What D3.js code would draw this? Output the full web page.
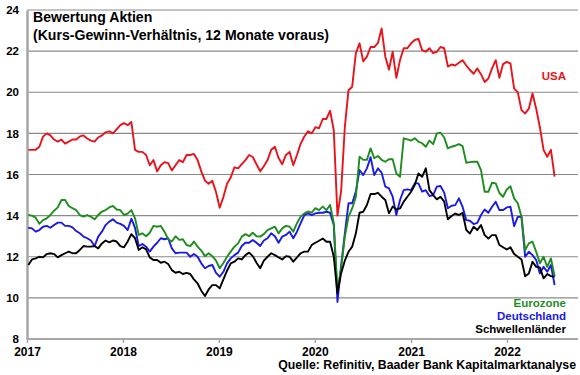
<!DOCTYPE html>
<html><head><meta charset="utf-8">
<script src="https://cdn.jsdelivr.net/npm/d3@7"></script>
<style>body{margin:0;background:#fff}svg{display:block}text{font-family:"Liberation Sans",Arial,sans-serif;font-weight:bold}</style>
</head><body><svg id="c" width="580" height="375"></svg>
<script>
const startDate = "2017-01-06";
const stepDays = 14;
const yTicks = [8,10,12,14,16,18,20,22,24];
const xTickYears = [2017,2018,2019,2020,2021,2022];
const titleLines = ["Bewertung Aktien","(Kurs-Gewinn-Verhältnis, 12 Monate voraus)"];
const sourceText = "Quelle: Refinitiv, Baader Bank Kapitalmarktanalyse";
const seriesNames = ["USA","Deutschland","Eurozone","Schwellenländer"];
const seriesColors = ["#e8141c","#1a1ae6","#1e8c1e","#000000"];

const usa = [17.2,17.2,17.2,17.35,17.84,18.0,17.9,17.7,17.6,17.7,17.5,17.6,17.7,17.7,17.85,17.9,17.75,17.65,17.6,17.8,17.9,18.05,18.1,18.0,18.2,18.4,
 18.5,18.4,18.55,17.2,17.1,17.1,16.95,16.45,16.7,16.15,16.45,16.6,16.55,16.2,16.45,16.7,16.6,16.95,16.95,17.0,16.7,16.15,15.7,15.55,15.7,15.15,14.38,
 14.9,15.55,15.85,16.35,16.3,16.5,16.7,16.95,16.85,16.5,16.15,16.4,16.7,17.2,17.35,16.8,16.5,16.95,17.1,16.45,16.95,17.5,17.85,18.1,18.0,
 18.3,18.25,18.7,18.7,19.1,18.15,14.0,15.2,18.3,20.1,20.27,21.9,22.38,21.5,21.73,22.2,22.2,22.4,23.1,21.73,21.1,21.97,20.7,21.57,22.14,22.14,22.38,
 22.54,22.6,22.05,21.97,22.14,21.9,21.97,22.2,22.14,21.25,21.35,21.3,21.43,21.56,21.3,21.08,20.9,21.16,20.88,20.5,20.67,21.16,21.56,20.7,21.37,21.48,
 21.4,20.18,20.0,19.13,18.97,19.2,19.94,19.2,18.3,17.2,16.86,17.2,15.9];

const eurozone = [14.03,14.0,13.9,13.6,13.78,13.87,14.03,14.24,14.4,14.76,14.76,14.47,14.36,14.27,14.03,13.95,14.03,13.95,13.82,14.03,14.2,14.27,14.4,14.47,14.3,14.27,
 14.03,14.1,14.27,13.87,13.06,13.14,13.0,13.17,13.5,13.46,13.5,13.22,12.85,12.74,13.0,12.82,12.85,12.57,12.52,12.74,12.49,12.3,12.03,12.17,12.03,11.81,11.44,
 11.7,12.0,12.25,12.49,12.65,12.98,13.1,13.0,13.17,13.0,12.98,13.1,13.3,13.38,13.46,13.14,13.38,13.5,13.46,13.22,13.63,13.95,14.11,14.2,14.15,
 14.36,14.27,14.44,14.27,14.52,13.63,10.38,11.43,12.97,13.95,14.35,14.92,16.87,16.71,16.71,17.27,16.79,16.9,16.71,16.62,16.74,16.74,16.05,15.89,17.76,17.71,17.65,
 17.76,17.6,17.52,17.35,17.65,17.48,18.0,18.03,17.8,17.27,17.35,17.4,17.48,17.38,16.57,16.6,16.62,16.62,16.21,15.16,15.16,15.6,15.57,15.1,14.92,15.27,
 15.43,14.84,14.6,13.95,12.32,12.65,12.73,12.24,11.68,12.0,11.51,11.92,11.05];

const deutschland = [13.41,13.38,13.22,13.3,13.46,13.5,13.41,13.54,13.66,13.66,13.5,13.5,13.43,13.25,13.14,12.98,12.9,12.79,12.52,12.98,13.22,13.54,13.71,13.82,13.66,13.6,
 13.5,13.3,13.85,13.4,12.52,12.62,12.49,12.25,12.49,12.68,12.9,12.85,12.9,12.41,12.17,12.2,12.2,12.2,12.0,12.13,12.0,11.68,11.44,11.55,11.6,11.22,11.03,
 11.27,11.68,11.92,12.08,12.2,12.52,12.68,12.68,12.82,12.68,12.52,12.79,12.9,13.14,13.0,12.68,12.98,13.06,13.22,12.9,13.22,13.63,14.03,14.11,14.03,
 14.11,14.14,14.14,14.19,14.14,13.54,9.8,11.59,13.13,14.6,14.6,15.17,16.22,15.97,16.3,16.84,15.97,16.3,16.09,15.41,15.33,14.92,14.03,14.76,15.24,15.28,15.24,
 15.57,15.57,15.17,15.24,14.95,15.0,15.41,15.44,15.12,14.36,14.48,14.51,14.84,14.43,13.78,13.75,13.59,13.65,14.03,14.3,14.14,14.43,14.67,14.27,14.27,14.4,
 14.43,13.49,13.94,13.94,12.0,12.24,12.08,11.84,11.19,11.51,11.27,11.6,10.62];

const schwellenlaender = [11.6,11.87,11.92,12.0,11.97,12.13,12.17,12.13,11.97,12.08,12.17,12.25,12.17,12.17,12.33,12.52,12.49,12.49,12.52,12.41,12.65,12.79,12.7,12.79,12.74,12.52,
 12.46,12.74,13.1,12.9,12.33,12.46,12.36,11.97,11.84,11.84,11.71,11.76,11.65,11.35,11.22,11.27,11.16,11.22,11.16,10.9,10.7,10.35,10.09,10.41,10.62,10.62,10.46,
 10.9,11.32,11.68,11.76,11.92,11.87,12.08,12.2,12.03,11.71,11.44,11.81,12.0,12.17,12.08,11.97,11.87,12.03,12.0,11.76,11.97,12.17,12.25,12.25,12.57,
 12.68,12.78,12.89,12.73,12.73,12.0,10.22,11.2,11.81,12.24,12.49,13.14,14.14,14.19,14.52,15.05,15.05,15.11,14.92,14.76,14.11,14.44,14.3,14.35,14.68,14.92,15.16,
 15.49,16.05,15.89,16.3,15.24,15.0,14.79,14.92,14.68,13.82,13.98,14.1,14.03,14.14,13.3,13.13,13.46,13.3,13.54,13.05,12.89,13.05,13.05,12.57,12.46,12.35,
 12.46,12.13,12.0,11.87,11.05,11.19,11.76,11.51,11.48,10.95,11.16,11.06,11.03];

const seriesValues = [usa, deutschland, eurozone, schwellenlaender];

const svg = d3.select("#c");
const plotL = 27, plotR = 578, plotT = 10, plotB = 339;
const t0 = d3.timeParse("%Y-%m-%d")(startDate);
const dates = usa.map((_, i) => d3.timeDay.offset(t0, i * stepDays));

const x = d3.scaleTime().domain([new Date(2017,0,1), new Date(2022,8,28)]).range([plotL, plotR]);
const y = d3.scaleLinear().domain([8, 24]).range([plotB, plotT]);

// gridlines
svg.append("g").selectAll("line").data(yTicks.filter(v => v > 8)).join("line")
  .attr("x1", plotL).attr("x2", plotR).attr("y1", d => y(d)).attr("y2", d => y(d))
  .attr("stroke", "#8a8a8a").attr("stroke-width", 1.2);

// y axis
const yAxis = d3.axisLeft(y).tickValues(yTicks).tickSize(0).tickPadding(8);
const yg = svg.append("g").attr("transform", `translate(${plotL},0)`).call(yAxis);
yg.select(".domain").attr("stroke", "#a6a6a6").attr("stroke-width", 2.5);
yg.selectAll("text").attr("font-size", 11.5).attr("fill", "#000");

// x axis
const xAxis = d3.axisBottom(x).tickValues(xTickYears.map(yr => new Date(yr,0,1)))
  .tickFormat(d3.timeFormat("%Y")).tickSize(4).tickPadding(4);
const xg = svg.append("g").attr("transform", `translate(0,${plotB})`).call(xAxis);
xg.select(".domain").attr("stroke", "#a6a6a6").attr("stroke-width", 2).attr("d", `M${plotL},0H${plotR}`);
xg.selectAll(".tick line").attr("stroke", "#a6a6a6").attr("stroke-width", 1.5);
xg.selectAll("text").attr("font-size", 12).attr("fill", "#000");

// lines
const line = d3.line().x((d, i) => x(dates[i])).y(d => y(d));
seriesValues.forEach((vals, k) => {
  svg.append("path").datum(vals).attr("d", line)
    .attr("fill", "none").attr("stroke", seriesColors[k]).attr("stroke-width", 1.9)
    .attr("stroke-linejoin", "round");
});

// title
svg.append("g").selectAll("text").data(titleLines).join("text")
  .attr("x", 33).attr("y", (d, i) => 22 + i * 18)
  .attr("font-size", 14.1).attr("fill", "#000").text(d => d);

// legend labels
const legendPos = {"USA": 80, "Eurozone": 307, "Deutschland": 320, "Schwellenländer": 333};
seriesNames.forEach((n, k) => {
  svg.append("text").attr("x", 566).attr("y", legendPos[n]).attr("text-anchor", "end")
    .attr("font-size", 11.5).attr("fill", seriesColors[k]).text(n);
});

// source
svg.append("text").attr("x", 576).attr("y", 369).attr("text-anchor", "end")
  .attr("font-size", 12.3).attr("fill", "#000").text(sourceText);
</script></body></html>
